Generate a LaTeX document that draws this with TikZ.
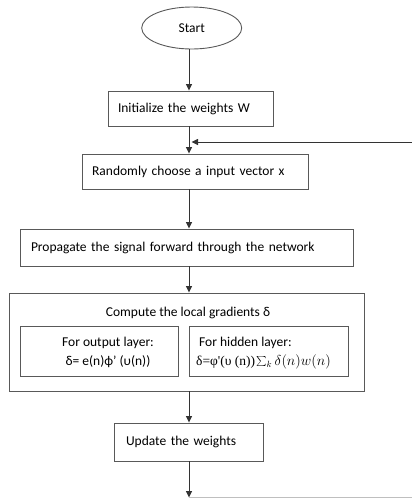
\documentclass[tikz,border=0pt]{standalone}
\usepackage{fontspec}
\setmainfont{Carlito}
\newfontfamily\serifgr{Liberation Serif}
\usetikzlibrary{shapes.geometric,arrows.meta}
\begin{document}
\begin{tikzpicture}[x=1pt,y=1pt,
  font=\fontsize{13.5}{16}\selectfont,
  box/.style={draw=black!65,line width=0.9pt,rectangle,inner ysep=0pt,align=left},
  conn/.style={draw=black!80,line width=0.9pt},
  arr/.style={conn,-{Triangle[width=6pt,length=6.5pt]}}]
\useasboundingbox (0,0) rectangle (412,-499);
\coordinate (ax) at (189,0);
\node[draw=black!65,line width=0.9pt,ellipse,minimum width=100pt,minimum height=42pt,inner sep=0pt] (start) at (191.7,-28) {Start};
\node[box,minimum height=35pt,text width=145pt,inner xsep=10pt] (init) at (190.5,-108.5) {Initialize the weights W};
\node[box,minimum height=35pt,text width=206.3pt,inner xsep=9.5pt] (rand) at (195.3,-171.5) {Randomly choose a input vector x};
\node[box,minimum height=37pt,text width=311pt,inner xsep=11pt] (prop) at (186.5,-247.5) {Propagate the signal forward through the network};
\node[box,minimum width=355pt,minimum height=98pt,inner sep=0pt] (comp) at (186.5,-342) {};
\node[inner sep=0pt,anchor=base] (title) at (188,-316) {Compute the local gradients δ};
\node[box,minimum width=157.3pt,minimum height=50pt,inner sep=0pt] (inL) at (99.3,-351) {};
\node[inner sep=0pt,align=center,anchor=base] (inLt) at (108,-365) {For output layer:\\[3pt]δ= e(n)ϕ' (υ(n))};
\node[box,minimum width=159pt,minimum height=50pt,inner sep=0pt] (inR) at (268.5,-351) {};
\node[inner sep=0pt,align=left,anchor=base west] (inRt) at (196,-365) {\hspace*{3pt}For hidden layer:\\[3pt]{\serifgr δ=φ'(υ (n))}\kern1pt$\sum_k\delta(n)w(n)$};
\node[box,minimum height=38pt,text width=125pt,inner xsep=12pt] (upd) at (188.5,-442) {Update the weights};
\coordinate (fbR) at (412,-142);
\coordinate (fbL) at (191.5,-142);
\coordinate (bot) at (189,-497.5);
\coordinate (botR) at (412,-497.5);
\draw[arr] (start.south -| ax) -- (init.north -| ax);
\draw[arr] (init.south -| ax) -- (rand.north -| ax);
\draw[arr] (fbR) -- (fbL);
\draw[arr] (rand.south -| ax) -- (prop.north -| ax);
\draw[arr] (prop.south -| ax) -- (comp.north -| ax);
\draw[arr] (comp.south -| ax) -- (upd.north -| ax);
\draw[arr] (upd.south -| ax) -- (bot);
\draw[conn,draw=black!25] (bot) -- (botR);
\end{tikzpicture}
\end{document}
